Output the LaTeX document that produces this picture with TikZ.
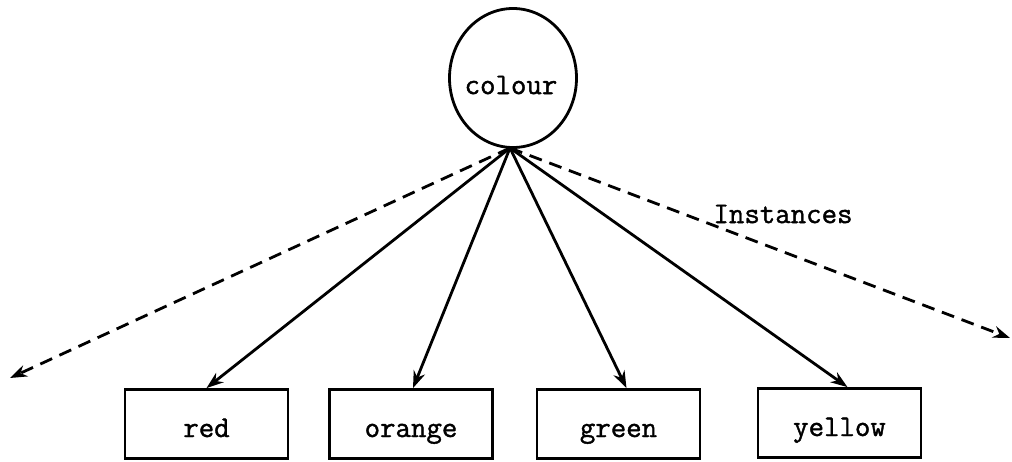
\documentclass[tikz,border=0pt]{standalone}
\usepackage{fontspec}
\setmonofont[UprightFeatures={FakeBold=1.3}]{Latin Modern Mono}
\usetikzlibrary{shapes.geometric,arrows.meta}
\newcommand{\lowtxt}[1]{\raisebox{-13pt}[0pt][0pt]{#1}}
\begin{document}
\begin{tikzpicture}[x=1pt,y=-1pt,
  lbl/.style={font=\ttfamily\fontsize{30}{30}\selectfont},
  inst/.style={draw,line width=2.8pt,minimum width=163pt,minimum height=69pt,inner sep=0pt,lbl},
  conn/.style={line width=2.8pt,-{Stealth[length=17pt,width=12pt]}},
  dconn/.style={conn,dash pattern=on 13pt off 8pt}]
\useasboundingbox (0,0) rectangle (1012,461);
\node[draw,ellipse,line width=2.8pt,minimum width=127pt,minimum height=139pt,inner sep=0pt] (colour) at (513,78) {};
\node[lbl] (colourtxt) at (511,85) {colour};
\node[inst] (red) at (206.5,424) {\lowtxt{red}};
\node[inst] (orange) at (411,424) {\lowtxt{orange}};
\node[inst] (green) at (618.5,424) {\lowtxt{green}};
\node[inst] (yellow) at (839.5,423) {\lowtxt{yellow}};
\coordinate (o) at (510,148);
\coordinate (leftend) at (10,378);
\coordinate (rightend) at (1010,338);
\node[lbl] (instances) at (783,214) {Instances};
\draw[conn] (o) -- (red.north);
\draw[conn] (o) -- ([xshift=2pt]orange.north);
\draw[conn] (o) -- ([xshift=8pt]green.north);
\draw[conn] (o) -- ([xshift=8pt]yellow.north);
\draw[dconn] (o) -- (leftend);
\draw[dconn] (o) -- (rightend);
\end{tikzpicture}
\end{document}
